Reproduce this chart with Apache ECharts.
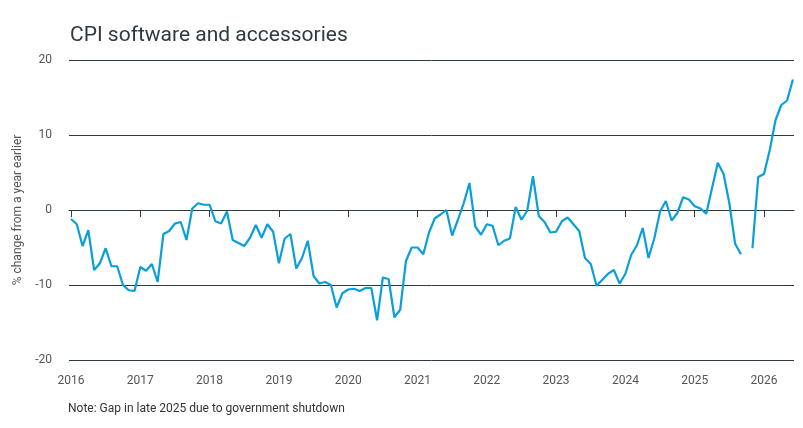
<!DOCTYPE html>
<html>
<head>
<meta charset="utf-8">
<script src="https://cdn.jsdelivr.net/npm/echarts@6/dist/echarts.min.js"></script>
<style>
  html, body { margin: 0; padding: 0; background: #fff; }
  #chart { width: 803px; height: 428px; }
</style>
</head>
<body>
<div id="chart"></div>
<script>
// monthly % change from a year earlier, Jan 2016 .. Jun 2026 (null = shutdown gap)
var startYear = 2016;
var yearTicks = [2016, 2017, 2018, 2019, 2020, 2021, 2022, 2023, 2024, 2025, 2026];
var yTicks = [-20, -10, 0, 10, 20];
var cpiValues = [
  -1.2, -1.9, -4.8, -2.7, -8.0, -7.1, -5.1, -7.5, -7.5, -10.0, -10.7, -10.8, // 2016
  -7.6, -8.1, -7.2, -9.6, -3.2, -2.8, -1.8, -1.6, -4.0, 0.2, 0.9, 0.7,       // 2017
  0.7, -1.5, -1.8, -0.2, -4.0, -4.4, -4.8, -3.7, -2.0, -3.7, -1.9, -2.9,     // 2018
  -7.1, -3.8, -3.2, -7.8, -6.4, -4.1, -8.8, -9.8, -9.6, -10.0, -13.0, -11.1, // 2019
  -10.6, -10.5, -10.8, -10.4, -10.4, -14.7, -9.0, -9.2, -14.3, -13.3, -6.8, -5.0, // 2020
  -5.0, -5.9, -3.0, -1.1, -0.6, 0.0, -3.4, -1.3, 0.9, 3.6, -2.2, -3.3,       // 2021
  -1.9, -2.1, -4.7, -4.1, -3.8, 0.4, -1.3, -0.1, 4.5, -0.8, -1.6, -3.0,      // 2022
  -2.9, -1.5, -1.0, -1.9, -2.8, -6.4, -7.2, -10.1, -9.3, -8.5, -8.0, -9.8,   // 2023
  -8.5, -6.0, -4.7, -2.4, -6.4, -3.8, -0.2, 1.2, -1.4, -0.4, 1.7, 1.4,       // 2024
  0.5, 0.2, -0.5, 2.9, 6.3, 4.8, 0.9, -4.5, -5.9, null, -5.1, 4.4,           // 2025
  4.8, 8.0, 12.0, 14.0, 14.6, 17.4                                           // 2026
];

var lineData = cpiValues.map(function (v, i) {
  return [startYear + i / 12, v === null ? '-' : v];
});

var fontFamily = "Roboto, 'Liberation Sans', sans-serif";
var myChart = echarts.init(document.getElementById('chart'), null, { renderer: 'canvas' });
myChart.setOption({
  animation: false,
  textStyle: { fontFamily: fontFamily },
  title: {
    text: 'CPI software and accessories',
    left: 65,
    top: 20,
    textStyle: { fontSize: 21, fontWeight: 'normal', color: '#2d3a42', fontFamily: fontFamily }
  },
  grid: { left: 69, right: 9, top: 60, bottom: 68 },
  xAxis: {
    type: 'value',
    min: 2015.971,
    max: 2026.433,
    axisLine: { show: true, lineStyle: { color: '#2d3a42', width: 1 } },
    axisTick: {
      show: true,
      customValues: yearTicks,
      length: 7,
      lineStyle: { color: '#2d3a42' }
    },
    axisLabel: {
      customValues: yearTicks,
      color: '#555',
      fontSize: 12,
      margin: 15,
      formatter: function (v) { return String(Math.round(v)); }
    },
    splitLine: { show: false }
  },
  yAxis: {
    type: 'value',
    min: -20,
    max: 20,
    interval: 10,
    name: '% change from a year earlier',
    nameLocation: 'middle',
    nameGap: 38,
    nameTextStyle: { color: '#555', fontSize: 12 },
    axisLine: { show: false },
    axisTick: { show: false },
    axisLabel: { color: '#555', fontSize: 12, margin: 17 },
    splitLine: { show: true, lineStyle: { color: '#2d3a42', width: 1 } }
  },
  graphic: [{
    type: 'text',
    left: 68,
    top: 403,
    style: {
      text: 'Note: Gap in late 2025 due to government shutdown',
      fill: '#333',
      font: '12px ' + fontFamily
    }
  }],
  series: [{
    type: 'line',
    data: lineData,
    showSymbol: false,
    connectNulls: false,
    lineStyle: { color: '#0a9fd9', width: 2.2 },
    itemStyle: { color: '#0a9fd9' }
  }]
});
</script>
</body>
</html>
